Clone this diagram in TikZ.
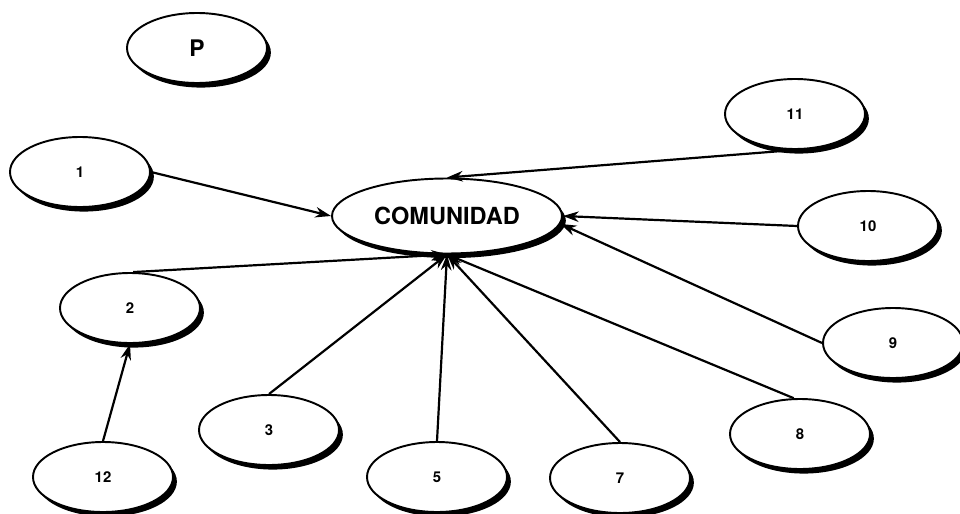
\documentclass[tikz,border=0pt]{standalone}
\usepackage{fontspec}
\setmainfont{TeX Gyre Heros}
\usetikzlibrary{shapes.geometric, shadows, arrows.meta}

\begin{document}
\begin{tikzpicture}[
  blob/.style={ellipse, draw, line width=1.1pt, fill=white, minimum width=2.8cm, minimum height=1.4cm,
    font=\bfseries\fontsize{8.5}{10}\selectfont,
    drop shadow={shadow xshift=2.2pt, shadow yshift=-2.6pt, fill=black, opacity=1}},
  link/.style={-{Stealth[length=9pt, width=6pt]}, line width=1.25pt}
]
\useasboundingbox (0,0) rectangle (19.2,-10.28);

\node[blob, font=\bfseries\fontsize{13}{15}\selectfont] (p) at (3.94,-0.96) {P};
\node[blob, minimum width=4.6cm, minimum height=1.5cm, font=\bfseries\fontsize{13.4}{15}\selectfont] (comunidad) at (8.94,-4.32) {COMUNIDAD};

\node[blob] (n1) at (1.6,-3.44) {1};
\node[blob] (n2) at (2.6,-6.16) {2};
\node[blob] (n3) at (5.38,-8.6) {3};
\node[blob] (n5) at (8.74,-9.54) {5};
\node[blob] (n7) at (12.4,-9.56) {7};
\node[blob] (n8) at (16,-8.68) {8};
\node[blob] (n9) at (17.86,-6.86) {9};
\node[blob] (n10) at (17.36,-4.52) {10};
\node[blob] (n11) at (15.9,-2.28) {11};
\node[blob] (n12) at (2.06,-9.54) {12};

\draw[link] (n1.east) -- (comunidad.west);
\draw[link] (n11.south) -- (comunidad.north);
\draw[link] (n10.west) -- (comunidad.east);
\draw[link] (n9.west) -- (comunidad.-4);
\draw[link] (n8.100) -- (comunidad.south);
\draw[link] (n7.north) -- (comunidad.south);
\draw[link] (n5.north) -- (comunidad.south);
\draw[link] (n3.north) -- (comunidad.south);
\draw[link] (n2.85) -- (comunidad.south);
\draw[link] (n12.north) -- (n2.south);
\end{tikzpicture}
\end{document}
